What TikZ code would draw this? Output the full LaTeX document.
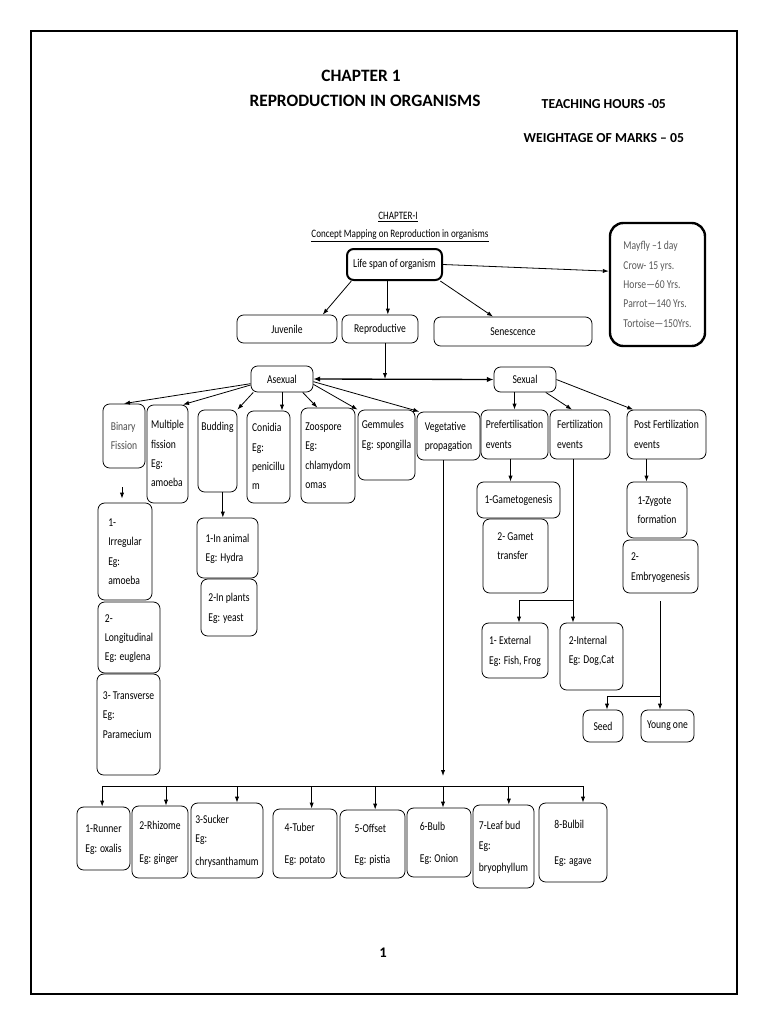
\documentclass[tikz,border=0pt]{standalone}
\usepackage{fontspec}
\setmainfont{Carlito}
\newfontfamily\mapfont[FakeStretch=0.8]{Carlito}
\usetikzlibrary{arrows.meta}
\newcommand{\lines}[1]{\begin{tabular}{@{}l@{}}#1\end{tabular}}
\newcommand{\padb}[1]{\\[#1]\mbox{}}

\begin{document}
\begin{tikzpicture}[x=0.75pt, y=-0.75pt,
box/.style = {draw, rounded corners=5pt, inner sep=0pt, line width=.6pt,
  font=\mapfont\fontsize{9}{14.5}\selectfont},
corners/.style n args = {4}{at={({(#1+#3)/2},{(#2+#4)/2})},
  minimum width={(#3-#1)*0.75pt}, minimum height={(#4-#2)*0.75pt}},
arr/.style = {-{Latex[length=4.5pt,width=3.2pt]}, line width=.6pt},
head/.style = {font=\bfseries\fontsize{13}{15}\selectfont},
sub/.style = {font=\bfseries\fontsize{10.3}{12}\selectfont, anchor=west},
maptitle/.style = {font=\mapfont\fontsize{8.5}{10}\selectfont}]
\useasboundingbox (0,0) rectangle (768,1024);
\draw[line width=.8pt] (31,31) rectangle (737,994);

\node[head] (chap) at (361,76) {CHAPTER 1};
\node[head] (title) at (365,101) {REPRODUCTION IN ORGANISMS};
\node[sub] (hours) at (537,104) {TEACHING HOURS -05};
\node[sub] (marks) at (519,138) {WEIGHTAGE OF MARKS – 05};
\node[maptitle] (mapno) at (398,217) {\underline{CHAPTER-I}};
\node[maptitle] (mapname) at (400,236) {\underline{Concept Mapping on Reproduction in organisms}};

\node[box, line width=1.5pt, corners={347}{249}{442}{280}] (life) {Life span of organism};
\node[box, line width=1.8pt, rounded corners=10pt, text=black!65, corners={610}{223}{705}{346}] (span)
  {\lines{Mayfly –1 day\\Crow- 15 yrs.\\Horse—60 Yrs.\\Parrot—140 Yrs.\\Tortoise—150Yrs.}};
\node[box, corners={237}{315}{337}{343}] (juv) {Juvenile};
\node[box, corners={342}{315}{418}{343}] (repro) {Reproductive};
\node[box, corners={434}{317}{592}{346}] (sen) {Senescence};

\node[box, corners={251}{366}{313}{392}] (asex) {Asexual};
\node[box, corners={494}{367}{556}{392}] (sex) {Sexual};

\node[box, text=black!70, corners={103}{404}{145}{468}] (bin) {\lines{Binary\\Fission}};
\node[box, corners={147}{405}{188}{503}] (mult) {\lines{Multiple\\fission\\Eg:\\amoeba}};
\node[box, corners={198}{410}{237}{492}] (bud) {\lines{Budding\padb{22pt}}};
\node[box, corners={247}{411}{290}{503}] (coni) {\lines{Conidia\\Eg:\\penicillu\\m}};
\node[box, corners={301}{408}{355}{503}] (zoo) {\lines{Zoospore\\Eg:\\chlamydom\\omas}};
\node[box, corners={358}{410}{415}{480}] (gem) {\lines{Gemmules\\Eg: spongilla\padb{1pt}}};
\node[box, corners={417}{412}{480}{460}] (veg) {\lines{Vegetative\\propagation}};
\node[box, corners={481}{410}{548}{459}] (pre) {\lines{Prefertilisation\\events}};
\node[box, corners={550}{410}{610}{459}] (fert) {\lines{Fertilization\\events}};
\node[box, corners={627}{410}{706}{459}] (post) {\lines{Post Fertilization\\events}};

\node[box, corners={98}{503}{152}{600}] (irr) {\lines{1-\\Irregular\\Eg:\\amoeba}};
\node[box, corners={98}{602}{160}{673}] (lon) {\lines{2-\\Longitudinal\\Eg: euglena}};
\node[box, corners={97}{674}{160}{775}] (tra) {\lines{3- Transverse\\Eg:\\Paramecium\padb{0pt}}};
\node[box, corners={197}{518}{258}{578}] (ani) {\lines{1-In animal\\Eg: Hydra}};
\node[box, corners={201}{579}{257}{636}] (pla) {\lines{2-In plants\\Eg: yeast}};

\node[box, corners={477}{482}{560}{518}] (gam) {1-Gametogenesis};
\node[box, corners={483}{519}{548}{593}] (gtr) {\lines{2- Gamet\\transfer\padb{0pt}}};
\node[box, corners={482}{623}{548}{678}] (ext) {\lines{1- External\\Eg: Fish, Frog}};
\node[box, corners={560}{623}{623}{690}] (int) {\lines{2-Internal\\Eg: Dog,Cat\padb{-5pt}}};
\node[box, corners={627}{482}{687}{538}] (zyg) {\lines{1-Zygote\\formation}};
\node[box, corners={623}{540}{698}{593}] (emb) {\lines{2-\\Embryogenesis}};
\node[box, corners={583}{710}{623}{742}] (seed) {Seed};
\node[box, corners={641}{710}{694}{742}] (young) {Young one};

\node[box, corners={77}{807}{130}{870}] (run) {\lines{1-Runner\\Eg: oxalis}};
\node[box, corners={132}{806}{188}{878}] (rhi) {\lines{2-Rhizome\\[10pt]Eg: ginger}};
\node[box, corners={191}{803}{263}{878}] (suc) {\lines{3-Sucker\\Eg:\\[3pt]chrysanthamum}};
\node[box, corners={273}{809}{337}{878}] (tub) {\lines{4-Tuber\\[9pt]Eg: potato}};
\node[box, corners={340}{810}{405}{878}] (off) {\lines{5-Offset\\[9pt]Eg: pistia}};
\node[box, corners={407}{808}{471}{877}] (blb) {\lines{6-Bulb\\[9pt]Eg: Onion}};
\node[box, corners={473}{805}{534}{888}] (leaf) {\lines{7-Leaf bud\\Eg:\\[2pt]bryophyllum}};
\node[box, corners={539}{803}{607}{882}] (bbl) {\lines{8-Bulbil\\[12pt]Eg: agave}};

\node[font=\bfseries\fontsize{11}{12}\selectfont] (page) at (383,953) {1};

\draw[arr] ([xshift=4pt]life.south west) -- ([xshift=-11pt]juv.north east);
\draw[arr] ([xshift=-5pt]life.south) -- ([xshift=-5pt]life.south |- repro.north);
\draw[arr] ([xshift=-2pt]life.south east) -- ([xshift=-15pt]sen.north);
\draw[arr] (life.east) -- ([yshift=10pt]span.west);

\coordinate (rj) at (385,379);
\draw[{Latex[length=5pt,width=4pt]}-{Latex[length=5pt,width=4pt]}, line width=1pt] (asex.east) -- (sex.west);
\draw[arr] (repro.south -| rj) -- (rj);

\draw[arr] ([yshift=-3.5pt]asex.west) -- (bin.north);
\draw[arr] ([yshift=-4.5pt]asex.west) -- ([xshift=-4pt]mult.north east);
\draw[arr] ([xshift=2pt]asex.south west) -- (bud.north east);
\draw[arr] (asex.south) -- (asex.south |- coni.north);
\draw[arr] ([xshift=-8pt]asex.south east) -- ([xshift=-8pt]zoo.north);
\draw[arr] ([yshift=-4pt]asex.east) -- (gem.north west);
\draw[arr] ([yshift=-2pt]asex.east) -- ([xshift=2pt]veg.north west);

\draw[arr] (sex.south -| pre.north) -- (pre.north);
\draw[arr] ([xshift=-8pt]sex.south east) -- ([xshift=-6pt]fert.north);
\draw[arr] (sex.east) -- ([xshift=5pt]post.north west);
\draw[arr] ([xshift=-3pt]pre.south) -- ([xshift=-3pt]pre.south |- gam.north);
\draw[arr] ([xshift=-15pt]post.south) -- ([xshift=-15pt]post.south |- zyg.north);

\draw[arr, shorten <=14pt, shorten >=3pt] ([xshift=-1.5pt]bin.south) -- ([xshift=-1.5pt]bin.south |- irr.north);
\draw[arr] ([xshift=4pt]bud.south) -- ([xshift=4pt]bud.south |- ani.north);

\coordinate (fj) at (573,600);
\draw[arr] (fert.south -| fj) -- (int.north -| fj);
\draw[arr] (fj) -| ([xshift=3pt]ext.north);

\coordinate (ej) at (660,696);
\draw[arr, shorten <=6pt] (emb.south -| ej) -- (young.north -| ej);
\draw[arr] (ej) -| ([xshift=3pt]seed.north);

\coordinate (bus) at (443,786);
\draw[arr] (veg.south -| bus) -- ([yshift=7.5pt]bus);
\draw[line width=.6pt] ([xshift=-1pt]run.north |- bus) -- ([xshift=7.5pt]bbl.north |- bus);
\foreach \n/\d in {run/-1, rhi/4.5, suc/7.5, tub/5, off/2, blb/3, leaf/4, bbl/7.5}
  \draw[arr] ([xshift=\d pt]\n.north |- bus) -- ([xshift=\d pt]\n.north);
\end{tikzpicture}
\end{document}
